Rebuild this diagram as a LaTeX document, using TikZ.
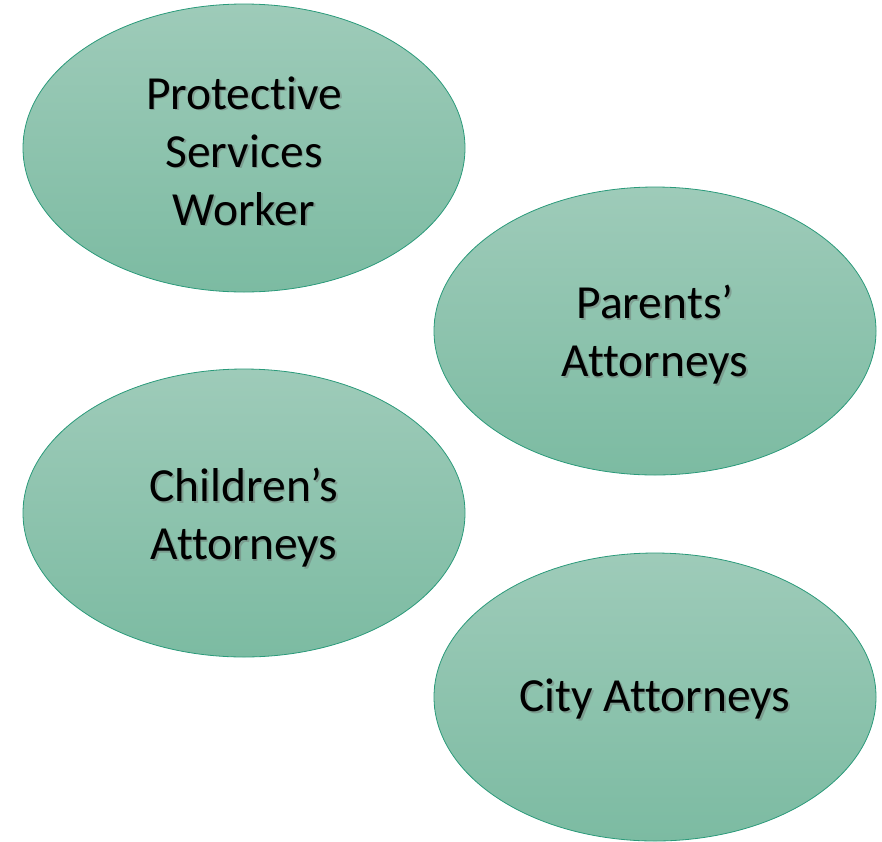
\documentclass[tikz,border=0pt]{standalone}
\usepackage{fontspec}
\setmainfont{Carlito}[RawFeature=-liga]
\usetikzlibrary{shapes.geometric,calc}
\definecolor{topg}{HTML}{9ECBB9}
\definecolor{botg}{HTML}{7CBBA2}
\definecolor{edge}{HTML}{2A9A7A}
\tikzset{
  blob/.style={ellipse, draw=edge, line width=0.8pt, top color=topg, bottom color=botg,
    minimum width=442pt, minimum height=288pt, inner sep=0pt},
  txt/.style={align=center, font=\fontsize{47.5}{58}\selectfont, text=black, inner sep=0pt},
  shtxt/.style={txt, text=black!60, opacity=0.4}
}
\begin{document}
\begin{tikzpicture}[x=1pt,y=-1pt]
\useasboundingbox (0,0) rectangle (882,841);
\node[blob] (pw) at (244,148) {};
\node[blob] (pa) at (655,331) {};
\node[blob] (ca) at (244,513) {};
\node[blob] (ct) at (655,697) {};
\node[shtxt] (pws) at (245.6,152.6) {Protective\\Services\\Worker};
\node[txt] (pwt) at (244,151) {Protective\\Services\\Worker};
\node[shtxt] (pas) at (656.6,336.6) {Parents’\\Attorneys};
\node[txt] (pat) at (655,335) {Parents’\\Attorneys};
\node[shtxt] (cas) at (245.6,519.6) {Children’s\\Attorneys};
\node[txt] (cat) at (244,518) {Children’s\\Attorneys};
\node[shtxt] (cts) at (656.6,700.6) {City Attorneys};
\node[txt] (ctt) at (655,699) {City Attorneys};
\end{tikzpicture}
\end{document}
